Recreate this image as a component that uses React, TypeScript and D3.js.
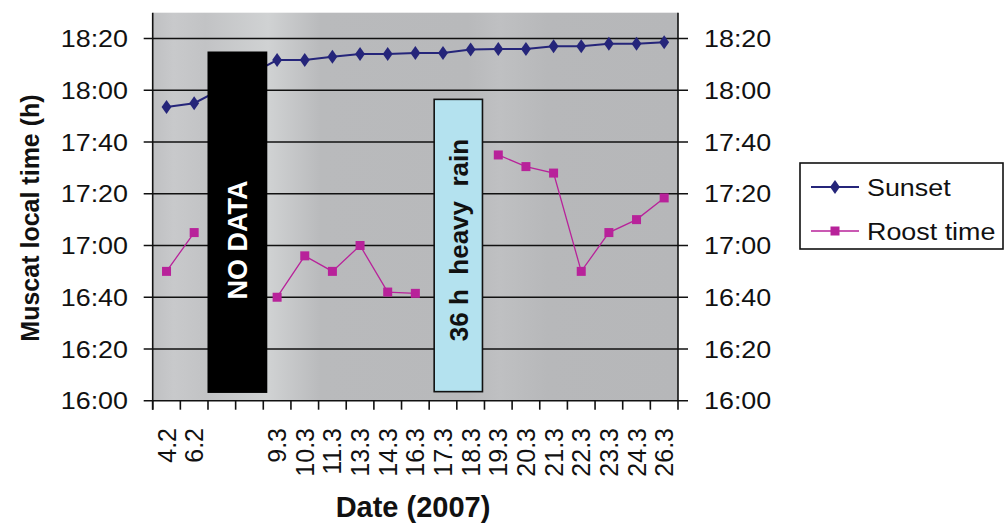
import React from "react";
import * as d3 from "d3";

const categories = ["4.2", "6.2", "", "", "9.3", "10.3", "11.3", "13.3", "14.3", "16.3", "17.3", "18.3", "19.3", "20.3", "21.3", "22.3", "23.3", "24.3", "26.3"];
const sunset: (string | null)[] = ["17:53.5", "17:55", null, null, "18:11.7", "18:11.7", "18:13", "18:14", "18:14", "18:14.4", "18:14.4", "18:15.8", "18:16", "18:16", "18:17", "18:17", "18:18", "18:18", "18:18.6"];
const roost: (string | null)[] = ["16:50", "17:05", null, null, "16:40", "16:56", "16:50", "17:00", "16:42", "16:41.5", null, null, "17:35", "17:30.5", "17:28", "16:50", "17:05", "17:10", "17:18.4"];
const yTicks = ["16:00", "16:20", "16:40", "17:00", "17:20", "17:40", "18:00", "18:20"];
const yDomain = ["16:00", "18:30"];
// annotation boxes: [first category index, last category index, top time, bottom time]
const noDataBox = { from: 2, to: 3, top: "18:15", bottom: "16:03" };
const rainBox = { from: 10, to: 11, top: "17:56.5", bottom: "16:03.5" };

const W = 1006, H = 526;
const M = { left: 152.7, right: 678, top: 12.7, bottom: 400.7 };

const toMin = (s: string) => {
  const [h, m] = s.split(":");
  return +h * 60 + parseFloat(m);
};

const FONT = "'Liberation Sans', Arial, sans-serif";
const NAVY = "#25257a";
const MAG = "#b8229a";

export default function App() {
  const x = d3.scaleBand<number>().domain(categories.map((_, i) => i)).range([M.left, M.right]).padding(0);
  const y = d3.scaleLinear().domain(yDomain.map(toMin)).range([M.bottom, M.top]);
  const cx = (i: number) => (x(i) as number) + x.bandwidth() / 2;

  const sunPts = sunset.map((v, i) => (v ? [cx(i), y(toMin(v))] as [number, number] : null)).filter(Boolean) as [number, number][];
  const roostPts = roost.map((v, i) => (v ? [cx(i), y(toMin(v))] as [number, number] : null));
  const line = d3.line<[number, number]>();
  const lineGap = d3.line<[number, number] | null>().defined((d) => d != null).x((d) => d![0]).y((d) => d![1]);

  const diamond = d3.symbol().type(d3.symbolDiamond).size(70)() as string;
  const sx = 1.12;

  const box = (b: typeof noDataBox, inL: number, inR: number) => {
    const x0 = (x(b.from) as number) + inL;
    const x1 = (x(b.to) as number) + x.bandwidth() + inR;
    const y0 = y(toMin(b.top));
    const y1 = y(toMin(b.bottom));
    return { x0, x1, y0, y1 };
  };
  const nd = box(noDataBox, -0.5, 4);
  const rb = box(rainBox, 5, -2);

  return (
    <svg width={W} height={H} style={{ position: "absolute", left: 0, top: 0, background: "#fff" }} fontFamily={FONT}>
      <defs>
        <linearGradient id="bg" x1="0" x2="1" y1="0" y2="0">
          <stop offset="0" stopColor="#bfc0c2" />
          <stop offset="0.04" stopColor="#c8c9cb" />
          <stop offset="0.1" stopColor="#c2c3c5" />
          <stop offset="0.22" stopColor="#d0d2d3" />
          <stop offset="0.32" stopColor="#b9babc" />
          <stop offset="0.6" stopColor="#b8b9bb" />
          <stop offset="0.66" stopColor="#bfc0c2" />
          <stop offset="0.75" stopColor="#b7b8ba" />
          <stop offset="1" stopColor="#b6b7b9" />
        </linearGradient>
      </defs>
      <rect x={M.left} y={M.top} width={M.right - M.left} height={M.bottom - M.top} fill="url(#bg)" />
      {/* gridlines with ticks */}
      {yTicks.map((t) => (
        <line key={t} x1={M.left - 9} x2={M.right + 10} y1={y(toMin(t))} y2={y(toMin(t))} stroke="#111" strokeWidth={1.6} />
      ))}
      {/* axes */}
      <line x1={M.left} x2={M.left} y1={M.top} y2={M.bottom + 9} stroke="#111" strokeWidth={1.6} />
      <line x1={M.right} x2={M.right} y1={M.top} y2={M.bottom + 9} stroke="#111" strokeWidth={1.6} />
      {categories.map((_, i) => (
        <line key={i} x1={x(i)} x2={x(i)} y1={M.bottom} y2={M.bottom + 9} stroke="#111" strokeWidth={1.6} />
      ))}
      {/* y tick labels */}
      {yTicks.map((t) => (
        <g key={"l" + t}>
          <text transform={`translate(128,${y(toMin(t))}) scale(${sx},1)`} dy="0.36em" textAnchor="end" fontSize={24} fill="#111">{t}</text>
          <text transform={`translate(704,${y(toMin(t))}) scale(${sx},1)`} dy="0.36em" textAnchor="start" fontSize={24} fill="#111">{t}</text>
        </g>
      ))}
      {/* x tick labels */}
      {categories.map((c, i) => (
        <text key={"x" + i} transform={`translate(${cx(i)},428) rotate(-90)`} dy="0.36em" textAnchor="end" fontSize={25} fill="#111">{c}</text>
      ))}
      {/* series */}
      <path d={line(sunPts) as string} fill="none" stroke={NAVY} strokeWidth={2} />
      {sunPts.map((p, i) => (
        <path key={"s" + i} d={diamond} transform={`translate(${p[0]},${p[1]}) scale(1.1,0.9)`} fill={NAVY} />
      ))}
      <path d={lineGap(roostPts) as string} fill="none" stroke={MAG} strokeWidth={1.3} />
      {roostPts.map((p, i) =>
        p ? <rect key={"r" + i} x={p[0] - 4.5} y={p[1] - 4.5} width={9} height={9} fill={MAG} /> : null
      )}
      {/* annotation boxes */}
      <rect x={nd.x0} y={nd.y0} width={nd.x1 - nd.x0} height={nd.y1 - nd.y0} fill="#000" />
      <text transform={`translate(${(nd.x0 + nd.x1) / 2},240) rotate(-90)`} dy="0.36em" textAnchor="middle" fontSize={27} fontWeight="bold" fill="#fff">NO DATA</text>
      <rect x={rb.x0} y={rb.y0} width={rb.x1 - rb.x0} height={rb.y1 - rb.y0} fill="#b4e2ef" stroke="#111" strokeWidth={1.6} />
      <text transform={`translate(${(rb.x0 + rb.x1) / 2},240) rotate(-90)`} dy="0.36em" textAnchor="middle" fontSize={26} fontWeight="bold" fill="#111" style={{ whiteSpace: "pre" }}>{"36 h  heavy  rain"}</text>
      {/* axis titles */}
      <text transform={`translate(30,218) rotate(-90)`} dy="0.36em" textAnchor="middle" fontSize={25} fontWeight="bold" fill="#111">Muscat local time (h)</text>
      <text x={413} y={517} textAnchor="middle" fontSize={29} fontWeight="bold" fill="#111">Date (2007)</text>
      {/* legend */}
      <rect x={800} y={163} width={203} height={86} fill="#fff" stroke="#111" strokeWidth={1.6} />
      <line x1={811} x2={859} y1={187} y2={187} stroke={NAVY} strokeWidth={2} />
      <path d={diamond} transform={`translate(835,187) scale(1.1,0.9)`} fill={NAVY} />
      <text transform={`translate(867,187) scale(${sx},1)`} dy="0.36em" fontSize={24} fill="#111">Sunset</text>
      <line x1={811} x2={859} y1={231} y2={231} stroke={MAG} strokeWidth={1.5} />
      <rect x={830.5} y={226.5} width={9} height={9} fill={MAG} />
      <text transform={`translate(867,231) scale(${sx},1)`} dy="0.36em" fontSize={24} fill="#111">Roost time</text>
    </svg>
  );
}
